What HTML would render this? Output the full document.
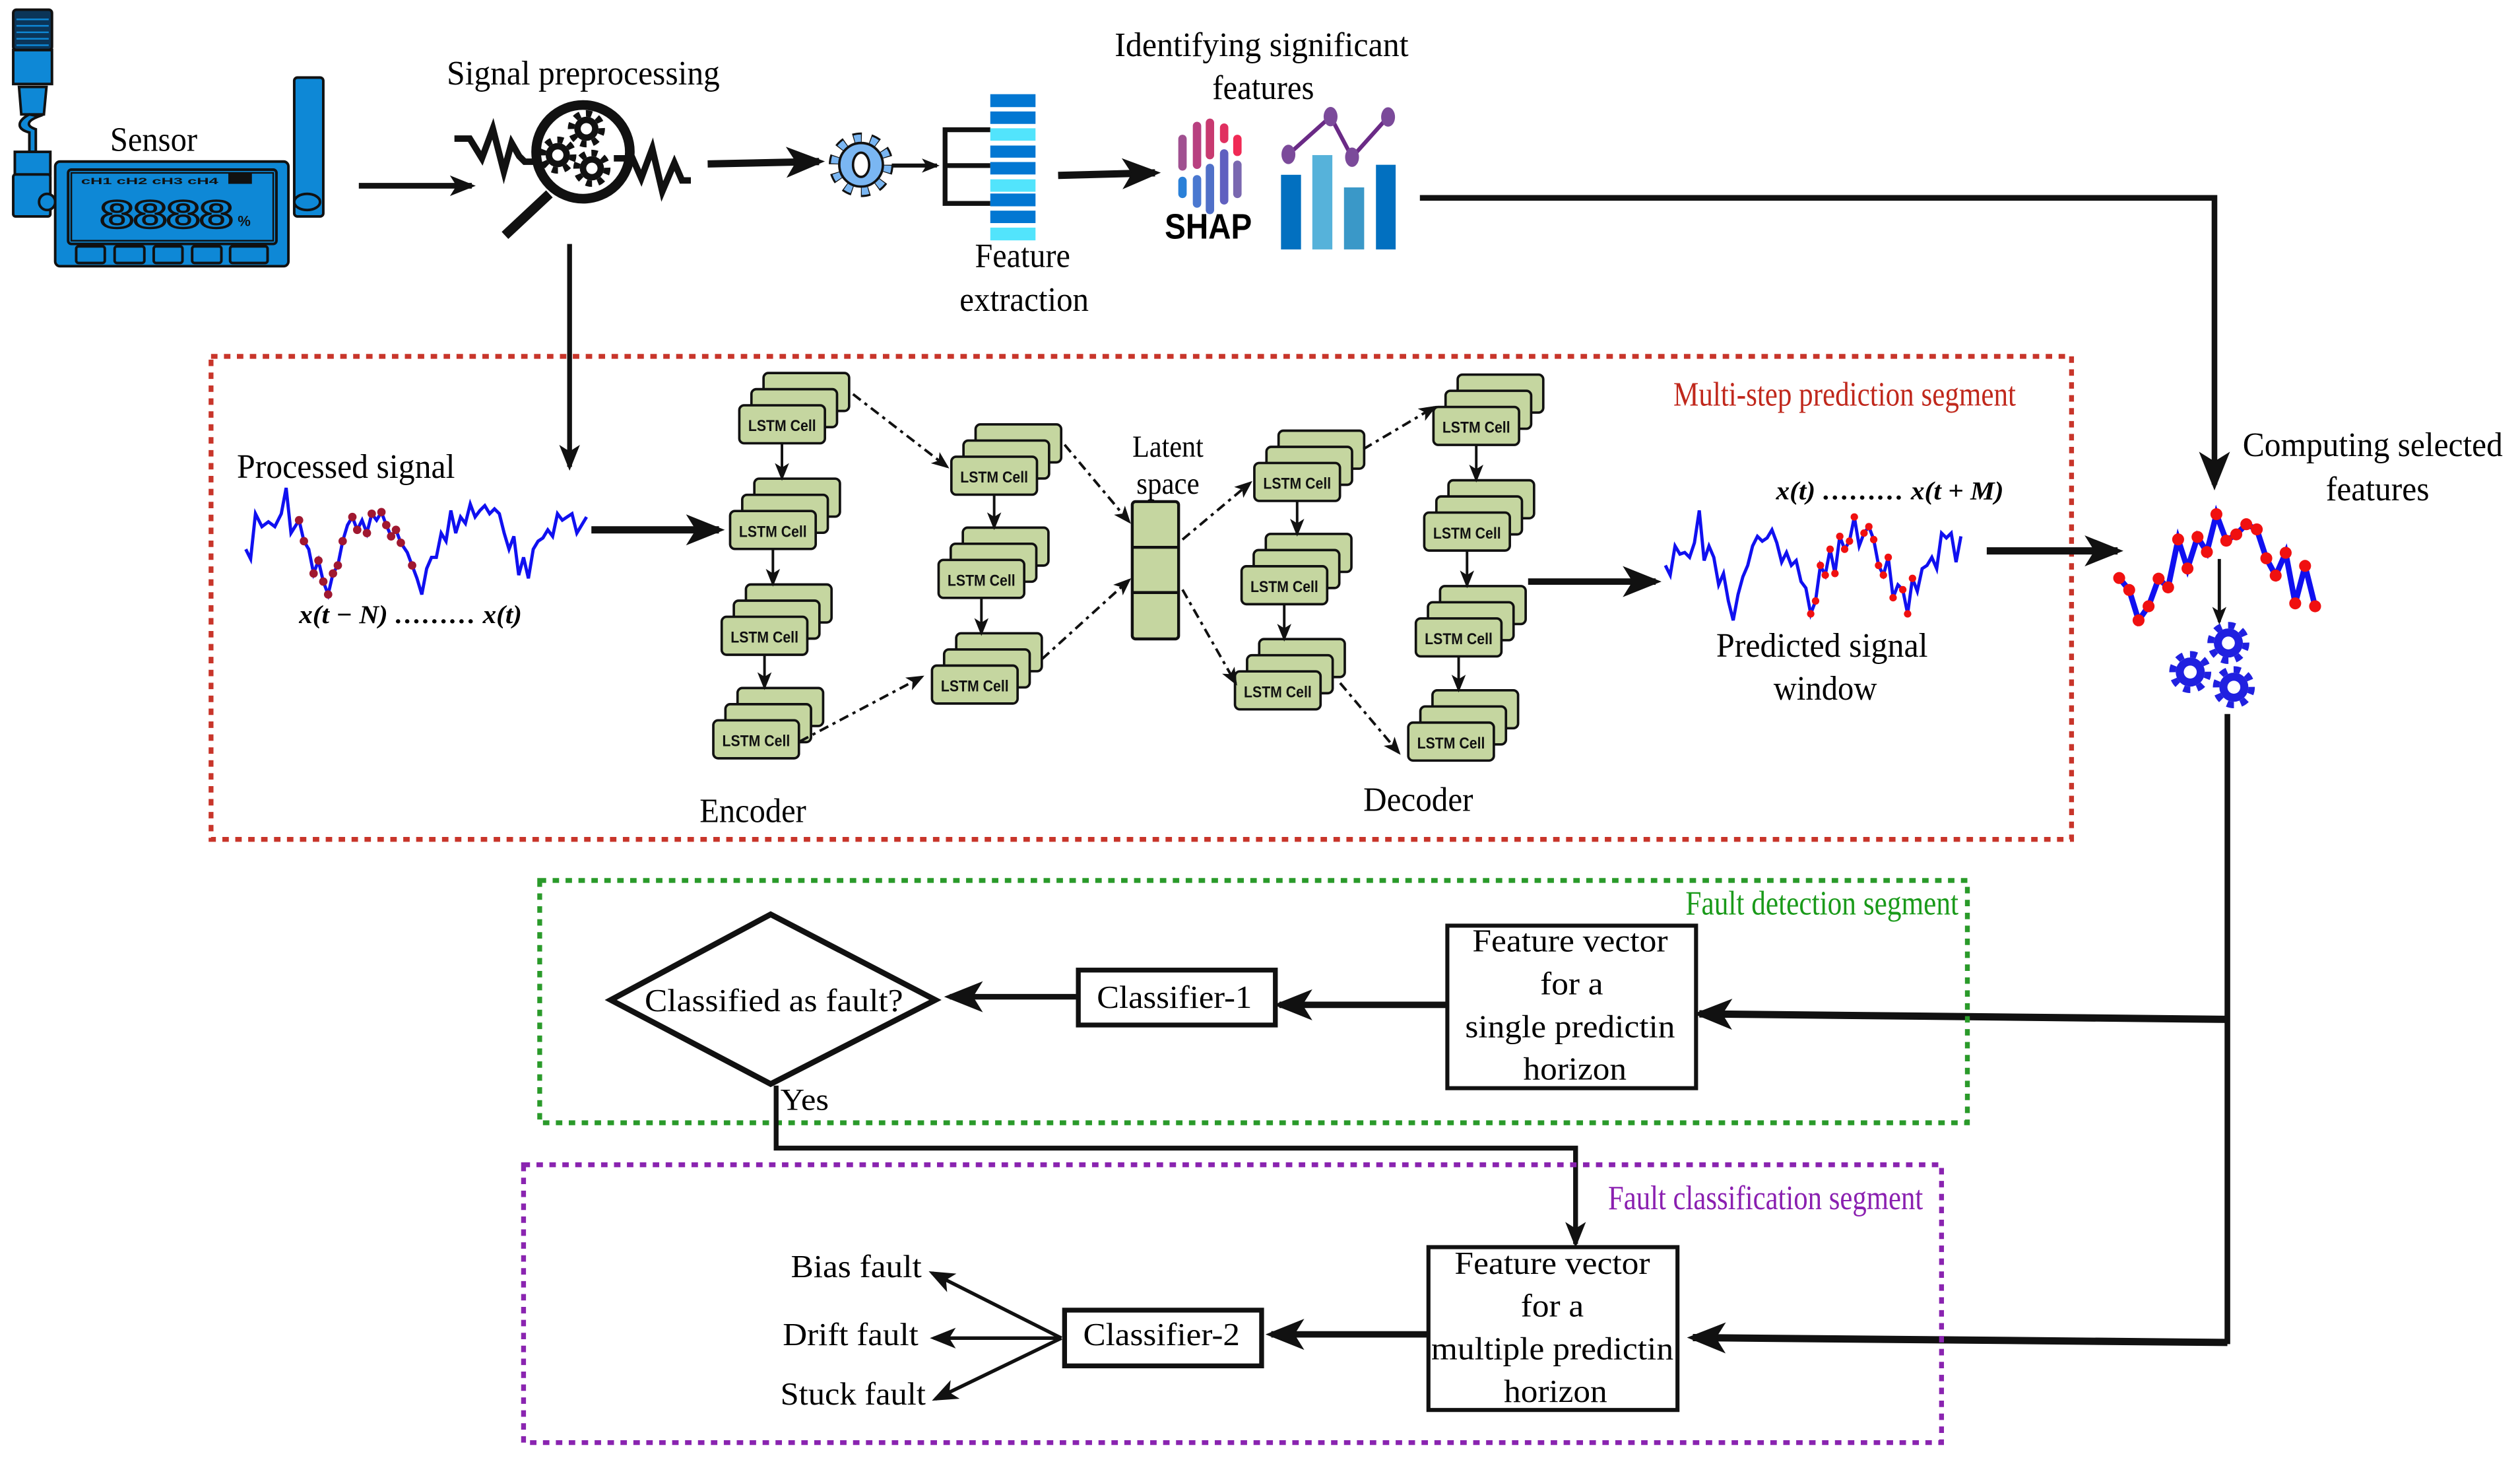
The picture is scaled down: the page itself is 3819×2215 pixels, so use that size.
<!DOCTYPE html>
<html><head><meta charset="utf-8"><style>
html,body{margin:0;padding:0;background:#fff;}
svg{display:block;}
text{font-family:"Liberation Serif",serif;}
.s{font-family:"Liberation Sans",sans-serif;}
</style></head><body>
<svg width="3819" height="2215" viewBox="0 0 1560 905" xmlns="http://www.w3.org/2000/svg">
<defs>
<marker id="ab" viewBox="0 0 20 16" markerWidth="24" markerHeight="20" refX="17" refY="8" orient="auto" markerUnits="userSpaceOnUse"><path d="M0,0 L20,8 L0,16 L5,8z" fill="#111"/></marker>
<marker id="am" viewBox="0 0 20 16" markerWidth="16" markerHeight="13" refX="17" refY="8" orient="auto" markerUnits="userSpaceOnUse"><path d="M0,0 L20,8 L0,16 L5,8z" fill="#111"/></marker>
<marker id="as" viewBox="0 0 20 16" markerWidth="11" markerHeight="10" refX="17" refY="8" orient="auto" markerUnits="userSpaceOnUse"><path d="M0,0 L20,8 L0,16 L5,8z" fill="#111"/></marker>
<g id="stk">
<rect x="15" y="-20" width="53" height="23.5" rx="3" fill="#c5d6a0" stroke="#111" stroke-width="1.5"/>
<rect x="7.5" y="-10" width="53" height="23.5" rx="3" fill="#c5d6a0" stroke="#111" stroke-width="1.5"/>
<rect x="0" y="0" width="53" height="23.5" rx="3" fill="#c5d6a0" stroke="#111" stroke-width="1.5"/>
<text x="26.5" y="16" class="s" font-size="10" font-weight="bold" text-anchor="middle" textLength="42" lengthAdjust="spacingAndGlyphs" fill="#111">LSTM Cell</text>
</g>
</defs>

<!-- Sensor -->
<g stroke="#111" stroke-width="1.6">
<rect x="8" y="6" width="24" height="25" rx="2" fill="#0b3558"/>
<g stroke="#0e88d6" stroke-width="1"><line x1="10" y1="12" x2="30" y2="12"/><line x1="10" y1="16" x2="30" y2="16"/><line x1="10" y1="20" x2="30" y2="20"/><line x1="10" y1="24" x2="30" y2="24"/><line x1="10" y1="28" x2="30" y2="28"/></g>
<rect x="8" y="31" width="24" height="21" fill="#0e88d6"/>
<path d="M11.6,53.8 L28.6,53.8 L27,70.8 L13,70.8z" fill="#0e88d6"/>
<path d="M18,70.8 C10,75 10,80 18,82 L18,94 L22,94 L22,80 C16,78 16,75 24,72z" fill="#0e88d6"/>
<rect x="9" y="94" width="22" height="14" fill="#0e88d6"/>
<rect x="8" y="108" width="23" height="26" rx="1.5" fill="#0e88d6"/>
<ellipse cx="29" cy="125" rx="5" ry="5" fill="#0e88d6"/>
<rect x="182" y="48" width="18" height="86" rx="2" fill="#0e88d6"/>
<ellipse cx="190" cy="125" rx="8" ry="5" fill="#0e88d6"/>
<rect x="34" y="100" width="144.4" height="64.8" rx="3" fill="#0e88d6"/>
<rect x="42" y="105" width="129" height="46" rx="2" fill="#0e88d6"/>
<rect x="44" y="107" width="125" height="42" fill="#0e88d6" stroke-width="1"/>
<rect x="47" y="152.5" width="17.7" height="10.3" rx="1.5" fill="#0e88d6"/>
<rect x="70.8" y="152.5" width="18.4" height="10.3" rx="1.5" fill="#0e88d6"/>
<rect x="95" y="152.5" width="17.8" height="10.3" rx="1.5" fill="#0e88d6"/>
<rect x="118.8" y="152.5" width="18.1" height="10.3" rx="1.5" fill="#0e88d6"/>
<rect x="142.3" y="152.5" width="23.2" height="10.3" rx="1.5" fill="#0e88d6"/>
<rect x="142" y="108" width="13" height="5" fill="#111"/>
</g>
<text x="50" y="114" class="s" font-size="5.5" font-weight="bold" fill="#111" textLength="85" lengthAdjust="spacingAndGlyphs">cH1  cH2  cH3  cH4</text>
<text x="62" y="141" class="s" font-size="24" font-weight="bold" fill="none" stroke="#111" stroke-width="1.4" textLength="82" lengthAdjust="spacingAndGlyphs">8888</text>
<text x="147" y="140" class="s" font-size="9" font-weight="bold" fill="#111">%</text>
<text x="95" y="93.3" font-size="21" text-anchor="middle" textLength="54" lengthAdjust="spacingAndGlyphs">Sensor</text>

<!-- arrows top row -->
<line x1="222" y1="115" x2="292" y2="115" stroke="#111" stroke-width="3.5" marker-end="url(#am)"/>
<text x="361" y="52.4" font-size="21" text-anchor="middle" textLength="169" lengthAdjust="spacingAndGlyphs">Signal preprocessing</text>
<!-- magnifier -->
<polyline points="281.2,85.8 290.7,85.8 298.2,98 305,79.7 311.8,106.2 316.6,88.5 321.3,96.7 324.7,100.1 330,100.1" fill="none" stroke="#111" stroke-width="4"/>
<polyline points="379.9,98 391.5,98 396.9,110.3 403.7,92 409.9,118.5 417.4,100.8 422.1,111.7 427.6,111.7" fill="none" stroke="#111" stroke-width="4"/>
<circle cx="360.8" cy="94" r="29" fill="none" stroke="#111" stroke-width="6"/>
<line x1="340" y1="120" x2="312.5" y2="145.7" stroke="#111" stroke-width="6"/>
<g fill="#111">
<circle cx="362.9" cy="79.7" r="7.5"/><circle cx="362.9" cy="79.7" r="9.5" fill="none" stroke="#111" stroke-width="4" stroke-dasharray="3.7 3.7"/><circle cx="362.9" cy="79.7" r="3.5" fill="#fff"/>
<circle cx="345.2" cy="96" r="7.5"/><circle cx="345.2" cy="96" r="9.5" fill="none" stroke="#111" stroke-width="4" stroke-dasharray="3.7 3.7"/><circle cx="345.2" cy="96" r="3.5" fill="#fff"/>
<circle cx="366.3" cy="104.2" r="7.5"/><circle cx="366.3" cy="104.2" r="9.5" fill="none" stroke="#111" stroke-width="4" stroke-dasharray="3.7 3.7"/><circle cx="366.3" cy="104.2" r="3.5" fill="#fff"/>
</g>
<line x1="438" y1="101.5" x2="507" y2="100" stroke="#111" stroke-width="4.5" marker-end="url(#ab)"/>
<!-- blue gear -->
<circle cx="533" cy="102" r="16" fill="none" stroke="#111" stroke-width="8" stroke-dasharray="5 5.1"/>
<circle cx="533" cy="102" r="16" fill="none" stroke="#7ab6f2" stroke-width="5.5" stroke-dasharray="4 6.1" stroke-dashoffset="-0.5"/>
<circle cx="533" cy="102" r="13.5" fill="#7ab6f2" stroke="#111" stroke-width="1.5"/>
<ellipse cx="533" cy="102" rx="5" ry="7.5" fill="#fff" stroke="#111" stroke-width="1.5"/>
<line x1="552" y1="102.5" x2="580" y2="102.5" stroke="#111" stroke-width="2.5" marker-end="url(#as)"/>
<polyline points="613,80.3 585,80.3 585,125.9 613,125.9" fill="none" stroke="#111" stroke-width="3"/>
<line x1="585" y1="102.5" x2="613" y2="102.5" stroke="#111" stroke-width="3"/>
<g>
<rect x="613" y="58.3" width="28" height="8" fill="#0277d2"/>
<rect x="613" y="69" width="28" height="7.7" fill="#0277d2"/>
<rect x="613" y="79.4" width="28" height="7.7" fill="#52e4fc"/>
<rect x="613" y="90.1" width="28" height="7.5" fill="#0277d2"/>
<rect x="613" y="100.3" width="28" height="7.7" fill="#0277d2"/>
<rect x="613" y="111" width="28" height="7.7" fill="#52e4fc"/>
<rect x="613" y="119.8" width="28" height="7.9" fill="#0277d2"/>
<rect x="613" y="130.4" width="28" height="7.7" fill="#0277d2"/>
<rect x="613" y="140.9" width="28" height="7.9" fill="#52e4fc"/>
</g>
<text x="633" y="165.3" font-size="21" text-anchor="middle" textLength="59" lengthAdjust="spacingAndGlyphs">Feature</text>
<text x="634" y="192.5" font-size="21" text-anchor="middle" textLength="80" lengthAdjust="spacingAndGlyphs">extraction</text>
<line x1="655" y1="108.6" x2="715" y2="107" stroke="#111" stroke-width="4.5" marker-end="url(#ab)"/>
<text x="781" y="34.7" font-size="21" text-anchor="middle" textLength="182" lengthAdjust="spacingAndGlyphs">Identifying significant</text>
<text x="782" y="61.3" font-size="21" text-anchor="middle" textLength="63" lengthAdjust="spacingAndGlyphs">features</text>
<!-- SHAP -->
<g stroke-width="5.2" stroke-linecap="round" fill="none">
<line x1="732" y1="86" x2="732" y2="103" stroke="#a05090"/><line x1="732" y1="112" x2="732" y2="120" stroke="#2a80d8"/>
<line x1="741" y1="78" x2="741" y2="102" stroke="#b84080"/><line x1="741" y1="111" x2="741" y2="126" stroke="#4a78d0"/>
<line x1="749" y1="76" x2="749" y2="96" stroke="#c83a70"/><line x1="749" y1="104" x2="749" y2="130" stroke="#5070c8"/>
<line x1="757.8" y1="79" x2="757.8" y2="86" stroke="#e03060"/><line x1="757.8" y1="95" x2="757.8" y2="124" stroke="#6060c0"/>
<line x1="766" y1="86" x2="766" y2="94" stroke="#f02a55"/><line x1="766" y1="102" x2="766" y2="120" stroke="#7a68b0"/>
</g>
<text x="748" y="147.7" class="s" font-size="22" font-weight="bold" text-anchor="middle" textLength="54" lengthAdjust="spacingAndGlyphs">SHAP</text>
<rect x="793" y="108.2" width="12.4" height="46.2" fill="#0270c0"/>
<rect x="812.4" y="96" width="12.4" height="58.4" fill="#56b2da"/>
<rect x="832" y="116" width="12.5" height="38.4" fill="#3a98c8"/>
<rect x="851.8" y="102" width="12.2" height="52.4" fill="#0270c0"/>
<polyline points="797.6,95.6 823.7,72.2 837,97.3 859.3,72.4" fill="none" stroke="#6a2a86" stroke-width="2.5"/>
<g fill="#7b4a9a"><ellipse cx="797.6" cy="95.6" rx="4.3" ry="6"/><ellipse cx="823.7" cy="72.2" rx="4.3" ry="6"/><ellipse cx="837" cy="97.3" rx="4.3" ry="6"/><ellipse cx="859.3" cy="72.4" rx="4.3" ry="6"/></g>
<polyline points="879,122.5 1371,122.5 1371,300" fill="none" stroke="#111" stroke-width="3.5" marker-end="url(#ab)"/>

<!-- preprocess down -->
<line x1="352.5" y1="151" x2="352.5" y2="289" stroke="#111" stroke-width="3" marker-end="url(#am)"/>

<!-- red box -->
<rect x="130.5" y="220.6" width="1152" height="299" fill="none" stroke="#c8352a" stroke-width="3" stroke-dasharray="4 4"/>
<text x="1142" y="251" font-size="21" fill="#c0281c" text-anchor="middle" textLength="212" lengthAdjust="spacingAndGlyphs">Multi-step prediction segment</text>
<text x="214" y="295.8" font-size="21" text-anchor="middle" textLength="135" lengthAdjust="spacingAndGlyphs">Processed signal</text>
<polyline fill="none" stroke="#1010f0" stroke-width="2" points="152,340 155,346 158,318 162,326 166,323 170,326 174,318 177,302 180,330 185,322 188,335 191,340 194,355 197,347 200,360 203,368 206,355 209,350 212,335 215,325 218,320 221,328 224,322 227,330 230,318 233,322 236,317 239,325 242,332 245,328 248,336 252,342 255,350 258,358 261,368 264,352 267,345 270,345 273,330 276,335 279,316 282,330 285,320 288,324 291,312 294,320 297,316 300,313 303,318 306,315 309,318 312,330 315,340 318,332 321,356 324,345 327,358 330,340 333,335 336,333 339,328 342,332 345,318 348,322 351,320 354,318 357,330 360,325 363,320"/>
<g fill="#a01830"><circle cx="185" cy="322" r="2.6"/><circle cx="188" cy="335" r="2.6"/><circle cx="194" cy="355" r="2.6"/><circle cx="197" cy="347" r="2.6"/><circle cx="200" cy="360" r="2.6"/><circle cx="203" cy="368" r="2.6"/><circle cx="206" cy="355" r="2.6"/><circle cx="209" cy="350" r="2.6"/><circle cx="212" cy="335" r="2.6"/><circle cx="218" cy="320" r="2.6"/><circle cx="221" cy="328" r="2.6"/><circle cx="227" cy="330" r="2.6"/><circle cx="230" cy="318" r="2.6"/><circle cx="236" cy="317" r="2.6"/><circle cx="239" cy="325" r="2.6"/><circle cx="242" cy="332" r="2.6"/><circle cx="245" cy="328" r="2.6"/><circle cx="248" cy="336" r="2.6"/><circle cx="255" cy="350" r="2.6"/></g>
<text x="254" y="385.7" font-size="16" font-style="italic" font-weight="bold" text-anchor="middle" textLength="138" lengthAdjust="spacingAndGlyphs">x(t − N) ……… x(t)</text>
<line x1="366" y1="328" x2="445" y2="328" stroke="#111" stroke-width="4.5" marker-end="url(#ab)"/>

<!-- LSTM stacks -->
<use href="#stk" x="457.6" y="250.9"/><use href="#stk" x="451.9" y="316.3"/><use href="#stk" x="446.7" y="381.8"/><use href="#stk" x="441.5" y="445.9"/>
<use href="#stk" x="588.9" y="282.7"/><use href="#stk" x="581" y="346.6"/><use href="#stk" x="576.9" y="412"/>
<use href="#stk" x="776.5" y="286.6"/><use href="#stk" x="768.6" y="350.5"/><use href="#stk" x="764.5" y="415.6"/>
<use href="#stk" x="887.4" y="251.9"/><use href="#stk" x="881.7" y="317.3"/><use href="#stk" x="876.5" y="382.8"/><use href="#stk" x="871.8" y="447.3"/>
<g stroke="#111" stroke-width="1.6">
<line x1="484" y1="274.4" x2="484" y2="296" marker-end="url(#as)"/>
<line x1="478.4" y1="339.8" x2="478.4" y2="361.5" marker-end="url(#as)"/>
<line x1="473.2" y1="405.3" x2="473.2" y2="425.5" marker-end="url(#as)"/>
<line x1="615.4" y1="306.2" x2="615.4" y2="326.5" marker-end="url(#as)"/>
<line x1="607.5" y1="370.1" x2="607.5" y2="392" marker-end="url(#as)"/>
<line x1="803" y1="310.1" x2="803" y2="330.5" marker-end="url(#as)"/>
<line x1="795" y1="374" x2="795" y2="395.5" marker-end="url(#as)"/>
<line x1="913.9" y1="275.4" x2="913.9" y2="297" marker-end="url(#as)"/>
<line x1="908.2" y1="340.8" x2="908.2" y2="362.5" marker-end="url(#as)"/>
<line x1="903" y1="406.3" x2="903" y2="427" marker-end="url(#as)"/>
</g>
<g stroke="#111" stroke-width="1.6" stroke-dasharray="6 3 2 3" fill="none">
<line x1="528" y1="244" x2="586.3" y2="289" marker-end="url(#as)"/>
<line x1="495" y1="459" x2="570.7" y2="419" marker-end="url(#as)"/>
<line x1="659" y1="275.3" x2="699" y2="323" marker-end="url(#as)"/>
<line x1="645" y1="408" x2="699" y2="359" marker-end="url(#as)"/>
<line x1="732" y1="334" x2="774" y2="298.8" marker-end="url(#as)"/>
<line x1="732" y1="365" x2="765" y2="423" marker-end="url(#as)"/>
<line x1="844" y1="278" x2="888" y2="252" marker-end="url(#as)"/>
<line x1="829.6" y1="422.8" x2="866" y2="466" marker-end="url(#as)"/>
</g>
<rect x="700.9" y="310.5" width="28.7" height="85" rx="2" fill="#c5d6a0" stroke="#111" stroke-width="1.8"/>
<line x1="700.9" y1="338.8" x2="729.6" y2="338.8" stroke="#111" stroke-width="1.8"/>
<line x1="700.9" y1="366.8" x2="729.6" y2="366.8" stroke="#111" stroke-width="1.8"/>
<text x="723" y="282.7" font-size="19" text-anchor="middle" textLength="44" lengthAdjust="spacingAndGlyphs">Latent</text>
<text x="723" y="305.6" font-size="19" text-anchor="middle" textLength="39" lengthAdjust="spacingAndGlyphs">space</text>
<text x="466" y="508.8" font-size="21" text-anchor="middle" textLength="66" lengthAdjust="spacingAndGlyphs">Encoder</text>
<text x="878" y="502" font-size="21" text-anchor="middle" textLength="68" lengthAdjust="spacingAndGlyphs">Decoder</text>
<line x1="946" y1="360" x2="1025" y2="360" stroke="#111" stroke-width="4" marker-end="url(#ab)"/>

<!-- predicted -->
<text x="1170" y="309" font-size="16" font-style="italic" font-weight="bold" text-anchor="middle" textLength="141" lengthAdjust="spacingAndGlyphs">x(t) ……… x(t + M)</text>
<polyline fill="none" stroke="#1010f0" stroke-width="2" points="1031,350 1034,356 1037,338 1040,343 1043,342 1046,345 1049,336 1052,316 1055,347 1058,338 1061,345 1064,362 1067,355 1070,372 1073,384 1076,368 1079,357 1082,350 1085,338 1088,332 1091,335 1094,333 1097,328 1100,336 1103,348 1106,342 1109,350 1112,347 1115,360 1118,364 1121,380 1124,372 1127,350 1130,356 1133,340 1136,355 1139,332 1142,340 1145,335 1148,320 1151,338 1154,330 1157,326 1160,334 1163,350 1166,356 1169,345 1172,370 1175,362 1178,365 1181,380 1184,358 1187,366 1190,352 1193,350 1196,345 1199,352 1202,330 1205,333 1208,330 1211,348 1214,332"/>
<g fill="#f01010"><circle cx="1124" cy="372" r="2.3"/><circle cx="1127" cy="350" r="2.3"/><circle cx="1130" cy="356" r="2.3"/><circle cx="1133" cy="340" r="2.3"/><circle cx="1136" cy="355" r="2.3"/><circle cx="1139" cy="332" r="2.3"/><circle cx="1142" cy="340" r="2.3"/><circle cx="1145" cy="335" r="2.3"/><circle cx="1148" cy="320" r="2.3"/><circle cx="1154" cy="330" r="2.3"/><circle cx="1157" cy="326" r="2.3"/><circle cx="1160" cy="334" r="2.3"/><circle cx="1163" cy="350" r="2.3"/><circle cx="1166" cy="356" r="2.3"/><circle cx="1169" cy="345" r="2.3"/><circle cx="1172" cy="370" r="2.3"/><circle cx="1178" cy="365" r="2.3"/><circle cx="1181" cy="380" r="2.3"/><circle cx="1184" cy="358" r="2.3"/><circle cx="1121" cy="380" r="2.3"/></g>
<text x="1128" y="406.6" font-size="21" text-anchor="middle" textLength="131" lengthAdjust="spacingAndGlyphs">Predicted signal</text>
<text x="1130" y="433" font-size="21" text-anchor="middle" textLength="64" lengthAdjust="spacingAndGlyphs">window</text>
<line x1="1230" y1="341" x2="1311" y2="341" stroke="#111" stroke-width="4.5" marker-end="url(#ab)"/>

<!-- computing -->
<text x="1469" y="282.3" font-size="21" text-anchor="middle" textLength="161" lengthAdjust="spacingAndGlyphs">Computing selected</text>
<text x="1472" y="309.7" font-size="21" text-anchor="middle" textLength="64" lengthAdjust="spacingAndGlyphs">features</text>
<polyline fill="none" stroke="#1010f0" stroke-width="3.5" points="1312,357.8 1318.2,365.2 1324,384 1330.2,375.3 1336.4,358.2 1342.3,363.6 1348.5,333.9 1354.3,351.9 1360.5,332.4 1366.3,341.7 1372.2,318.3 1378.3,334.7 1384.5,330.8 1390.7,324.5 1397.2,327.7 1403.1,345.6 1408.9,356.3 1415.1,342.2 1421,373.5 1427.1,350.3 1433.3,375.3"/>
<g fill="#f01010"><circle cx="1312" cy="357.8" r="3.7"/><circle cx="1318.2" cy="365.2" r="3.7"/><circle cx="1324" cy="384" r="3.7"/><circle cx="1330.2" cy="375.3" r="3.7"/><circle cx="1336.4" cy="358.2" r="3.7"/><circle cx="1342.3" cy="363.6" r="3.7"/><circle cx="1348.5" cy="333.9" r="3.7"/><circle cx="1354.3" cy="351.9" r="3.7"/><circle cx="1360.5" cy="332.4" r="3.7"/><circle cx="1366.3" cy="341.7" r="3.7"/><circle cx="1372.2" cy="318.3" r="3.7"/><circle cx="1378.3" cy="334.7" r="3.7"/><circle cx="1384.5" cy="330.8" r="3.7"/><circle cx="1390.7" cy="324.5" r="3.7"/><circle cx="1397.2" cy="327.7" r="3.7"/><circle cx="1403.1" cy="345.6" r="3.7"/><circle cx="1408.9" cy="356.3" r="3.7"/><circle cx="1415.1" cy="342.2" r="3.7"/><circle cx="1421" cy="373.5" r="3.7"/><circle cx="1427.1" cy="350.3" r="3.7"/><circle cx="1433.3" cy="375.3" r="3.7"/></g>
<line x1="1374" y1="346" x2="1374" y2="385" stroke="#111" stroke-width="2" marker-end="url(#as)"/>
<g fill="#2020e0">
<circle cx="1379.6" cy="398" r="9"/><circle cx="1379.6" cy="398" r="11" fill="none" stroke="#2020e0" stroke-width="4" stroke-dasharray="4.3 4.3"/><circle cx="1379.6" cy="398" r="4" fill="#fff"/>
<circle cx="1356" cy="416" r="9"/><circle cx="1356" cy="416" r="11" fill="none" stroke="#2020e0" stroke-width="4" stroke-dasharray="4.3 4.3"/><circle cx="1356" cy="416" r="4" fill="#fff"/>
<circle cx="1383" cy="425.4" r="9"/><circle cx="1383" cy="425.4" r="11" fill="none" stroke="#2020e0" stroke-width="4" stroke-dasharray="4.3 4.3"/><circle cx="1383" cy="425.4" r="4" fill="#fff"/>
</g>
<polyline points="1379,442 1379,832" fill="none" stroke="#111" stroke-width="3.5"/>
<line x1="1379" y1="631" x2="1052" y2="627.6" stroke="#111" stroke-width="4.5" marker-end="url(#ab)"/>
<line x1="1379" y1="831" x2="1048" y2="828" stroke="#111" stroke-width="4.5" marker-end="url(#ab)"/>

<!-- green box -->
<rect x="334" y="545" width="884" height="150" fill="none" stroke="#2a9a2a" stroke-width="3" stroke-dasharray="4 4"/>
<text x="1128" y="566" font-size="21" fill="#1a9a1a" text-anchor="middle" textLength="169" lengthAdjust="spacingAndGlyphs">Fault detection segment</text>
<rect x="896" y="573" width="154" height="100.6" fill="#fff" stroke="#111" stroke-width="2.5"/>
<text x="972" y="589" font-size="20" text-anchor="middle" textLength="121" lengthAdjust="spacingAndGlyphs">Feature vector</text>
<text x="973" y="615.5" font-size="20" text-anchor="middle" textLength="39" lengthAdjust="spacingAndGlyphs">for a</text>
<text x="972" y="642" font-size="20" text-anchor="middle" textLength="130" lengthAdjust="spacingAndGlyphs">single predictin</text>
<text x="975" y="668.3" font-size="20" text-anchor="middle" textLength="64" lengthAdjust="spacingAndGlyphs">horizon</text>
<line x1="896" y1="622" x2="792" y2="622" stroke="#111" stroke-width="4" marker-end="url(#ab)"/>
<rect x="667.5" y="600.5" width="122" height="34" fill="#fff" stroke="#111" stroke-width="3"/>
<text x="727" y="624" font-size="20" text-anchor="middle" textLength="96" lengthAdjust="spacingAndGlyphs">Classifier-1</text>
<line x1="666" y1="617" x2="588" y2="617" stroke="#111" stroke-width="3.5" marker-end="url(#ab)"/>
<polygon points="477,566 579,619 477,671 378,619" fill="#fff" stroke="#111" stroke-width="3.5" stroke-linejoin="miter"/>
<text x="479" y="625.9" font-size="20" text-anchor="middle" textLength="160" lengthAdjust="spacingAndGlyphs">Classified as fault?</text>
<text x="498" y="687" font-size="19" text-anchor="middle" textLength="30" lengthAdjust="spacingAndGlyphs">Yes</text>
<polyline points="480.4,672 480.4,710.7 975.4,710.7 975.4,770" fill="none" stroke="#111" stroke-width="3" marker-end="url(#am)"/>

<!-- purple box -->
<rect x="324" y="721" width="878" height="172" fill="none" stroke="#8a24b0" stroke-width="3" stroke-dasharray="4 4"/>
<text x="1093" y="748.5" font-size="21" fill="#8a1fb0" text-anchor="middle" textLength="195" lengthAdjust="spacingAndGlyphs">Fault classification segment</text>
<rect x="884.3" y="772" width="154.2" height="100.8" fill="#fff" stroke="#111" stroke-width="2.5"/>
<text x="961" y="788.6" font-size="20" text-anchor="middle" textLength="121" lengthAdjust="spacingAndGlyphs">Feature vector</text>
<text x="961" y="815" font-size="20" text-anchor="middle" textLength="39" lengthAdjust="spacingAndGlyphs">for a</text>
<text x="961" y="841.4" font-size="20" text-anchor="middle" textLength="150" lengthAdjust="spacingAndGlyphs">multiple predictin</text>
<text x="963" y="867.8" font-size="20" text-anchor="middle" textLength="64" lengthAdjust="spacingAndGlyphs">horizon</text>
<line x1="884" y1="826" x2="787" y2="826" stroke="#111" stroke-width="4" marker-end="url(#ab)"/>
<rect x="659" y="811" width="122" height="34.5" fill="#fff" stroke="#111" stroke-width="3"/>
<text x="719" y="832.7" font-size="20" text-anchor="middle" textLength="97" lengthAdjust="spacingAndGlyphs">Classifier-2</text>
<g stroke="#111" stroke-width="2.2">
<line x1="657" y1="828.3" x2="577" y2="788" marker-end="url(#am)"/>
<line x1="657" y1="828.3" x2="578" y2="828.3" marker-end="url(#am)"/>
<line x1="657" y1="828.3" x2="579" y2="866" marker-end="url(#am)"/>
</g>
<text x="530" y="790.5" font-size="20" text-anchor="middle" textLength="81" lengthAdjust="spacingAndGlyphs">Bias fault</text>
<text x="526.5" y="832.7" font-size="20" text-anchor="middle" textLength="84" lengthAdjust="spacingAndGlyphs">Drift fault</text>
<text x="528" y="869.4" font-size="20" text-anchor="middle" textLength="90" lengthAdjust="spacingAndGlyphs">Stuck fault</text>
</svg>
</body></html>
